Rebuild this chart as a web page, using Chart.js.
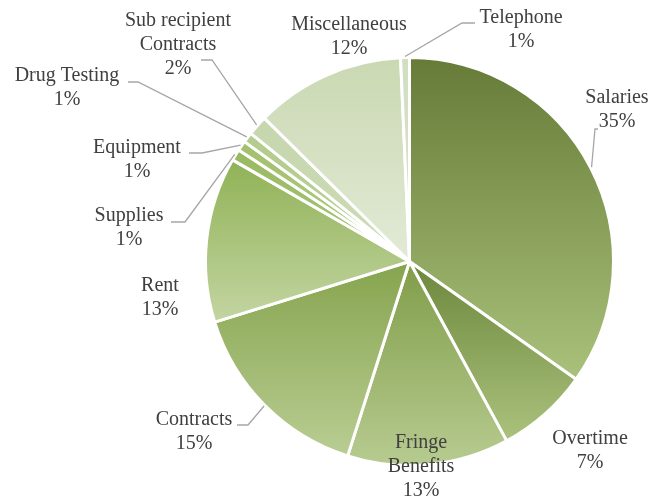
<!DOCTYPE html>
<html>
<head>
<meta charset="utf-8">
<script src="https://cdn.jsdelivr.net/npm/chart.js@4/dist/chart.umd.min.js"></script>
<style>
  html, body { margin: 0; padding: 0; background: #fff; }
  #wrap { width: 652px; height: 502px; }
</style>
</head>
<body>
<div id="wrap"><canvas id="budgetPie" width="652" height="502"></canvas></div>
<script>
// budget shares, clockwise from 12 o'clock
var categories = ['Salaries', 'Overtime', 'Fringe Benefits', 'Contracts', 'Rent', 'Supplies',
  'Equipment', 'Drug Testing', 'Sub recipient Contracts', 'Miscellaneous', 'Telephone'];
var shares = [34.8, 7.3, 12.8, 15.3, 13.1, 0.9, 0.8, 0.8, 1.6, 11.9, 0.7];

// top / bottom colour of each slice's vertical gradient
var sliceColors = [
  ['#657b37', '#aac17b'],
  ['#6c873c', '#abc27d'],
  ['#809d49', '#b7cb90'],
  ['#86a44e', '#b9cd93'],
  ['#90b256', '#c3d5a2'],
  ['#98b960', '#a9c67a'],
  ['#a3c06d', '#b0ca80'],
  ['#b3cb8c', '#bdd29a'],
  ['#c6d6ad', '#ccdbb5'],
  ['#cad8b2', '#e2eAd6'],
  ['#d2dec2', '#d8e2ca']
];

// where each label sits (centre of first text line) and its leader elbow
var labelSpots = [
  { x: 617, y: 98,  leader: { ex: 595, ey: 129, hx: 598 } },
  { x: 590, y: 439 },
  { x: 421, y: 443, wrap: true },
  { x: 194, y: 420, leader: { ex: 248, ey: 425, hx: 237 } },
  { x: 160, y: 286 },
  { x: 129, y: 216, leader: { ex: 185, ey: 222, hx: 171 } },
  { x: 137, y: 148, leader: { ex: 202, ey: 153, hx: 189 } },
  { x: 67,  y: 76,  leader: { ex: 138, ey: 82,  hx: 128 } },
  { x: 178, y: 21,  wrap: true, leader: { ex: 212, ey: 60, hx: 201 } },
  { x: 349, y: 25 },
  { x: 521, y: 18,  leader: { ex: 462, ey: 23, hx: 475 } }
];

var BORDER = 3;

function total() {
  return shares.reduce(function (a, b) { return a + b; }, 0);
}

function sliceGradient(ctx) {
  var i = ctx.dataIndex;
  var chart = ctx.chart;
  var area = chart.chartArea;
  if (!area) return sliceColors[i][1];
  var cx = (area.left + area.right) / 2;
  var cy = (area.top + area.bottom) / 2;
  var r = (Math.min(area.width, area.height) - BORDER) / 2;
  var sum = total();
  var a0 = -Math.PI / 2;
  for (var j = 0; j < i; j++) a0 += shares[j] / sum * Math.PI * 2;
  var a1 = a0 + shares[i] / sum * Math.PI * 2;
  var ys = [cy, cy + r * Math.sin(a0), cy + r * Math.sin(a1)];
  [-Math.PI / 2, Math.PI / 2, Math.PI * 1.5].forEach(function (k) {
    if (k >= a0 && k <= a1) ys.push(cy + r * Math.sin(k));
  });
  var top = Math.min.apply(null, ys), bottom = Math.max.apply(null, ys);
  if (bottom - top < 1) bottom = top + 1;
  var g = chart.ctx.createLinearGradient(0, top, 0, bottom);
  g.addColorStop(0, sliceColors[i][0]);
  g.addColorStop(1, sliceColors[i][1]);
  return g;
}

var sliceLabels = {
  id: 'sliceLabels',
  afterDatasetsDraw: function (chart) {
    var c = chart.ctx;
    var meta = chart.getDatasetMeta(0);
    var sum = total();
    c.save();
    c.font = '20px "Liberation Serif", "Times New Roman", serif';
    c.fillStyle = '#404040';
    c.textAlign = 'center';
    c.textBaseline = 'middle';
    meta.data.forEach(function (arc, i) {
      var spot = labelSpots[i];
      var name = categories[i];
      var lines;
      if (spot.wrap) {
        var k = name.lastIndexOf(' ');
        lines = [name.slice(0, k), name.slice(k + 1)];
      } else {
        lines = [name];
      }
      lines.push(Math.round(shares[i] / sum * 100) + '%');

      if (spot.leader) {
        var p = arc.getProps(['x', 'y', 'startAngle', 'endAngle', 'outerRadius'], true);
        var mid = (p.startAngle + p.endAngle) / 2;
        var sx = p.x + (p.outerRadius + 1) * Math.cos(mid);
        var sy = p.y + (p.outerRadius + 1) * Math.sin(mid);
        c.beginPath();
        c.strokeStyle = '#a6a6a6';
        c.lineWidth = 1.3;
        c.moveTo(sx, sy);
        c.lineTo(spot.leader.ex, spot.leader.ey);
        c.lineTo(spot.leader.hx, spot.leader.ey);
        c.stroke();
      }
      lines.forEach(function (t, n) {
        c.fillText(t, spot.x, spot.y + n * 24);
      });
    });
    c.restore();
  }
};

new Chart(document.getElementById('budgetPie'), {
  type: 'pie',
  data: {
    labels: categories,
    datasets: [{
      data: shares,
      backgroundColor: sliceGradient,
      borderColor: '#ffffff',
      borderWidth: BORDER
    }]
  },
  options: {
    responsive: false,
    animation: false,
    layout: { padding: { left: 204, right: 37, top: 56, bottom: 35 } },
    plugins: {
      legend: { display: false },
      tooltip: { enabled: false }
    }
  },
  plugins: [sliceLabels]
});
</script>
</body>
</html>
